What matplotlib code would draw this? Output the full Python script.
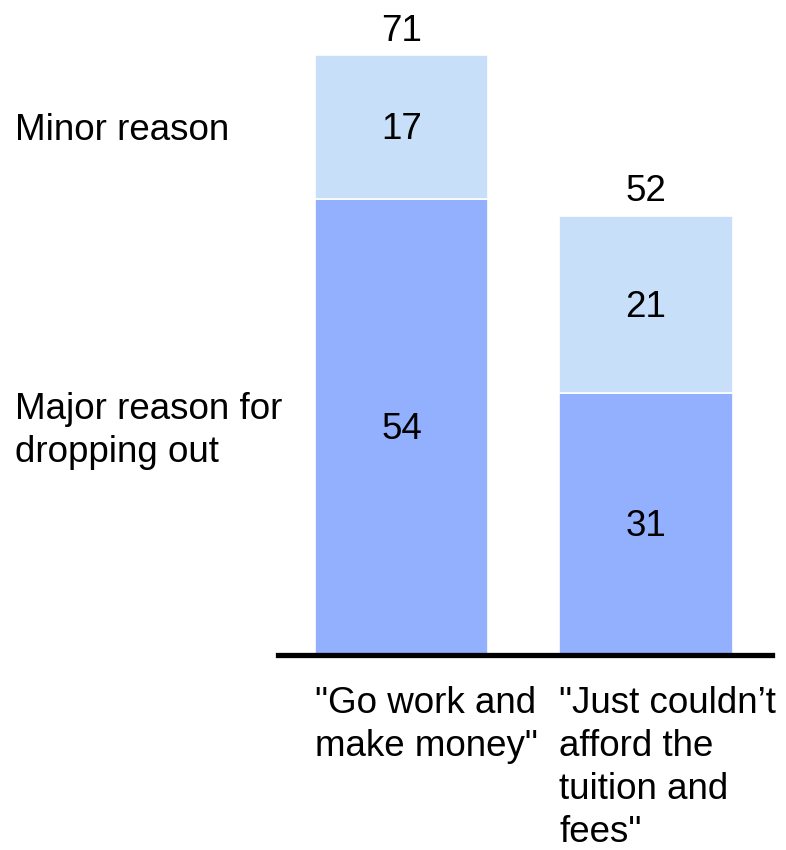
import matplotlib.pyplot as plt

plt.rcParams['font.family'] = ['Liberation Sans', 'DejaVu Sans']

categories = ['"Go work and\nmake money"', '"Just couldn\u2019t\nafford the\ntuition and\nfees"']
major = [54, 31]
minor = [17, 21]
totals = [71, 52]

light = '#c8dffa'
dark = '#93b0fe'
fs = 26.5
nudge = 0.35  # center labels sit a bit high in Liberation Sans

fig = plt.figure(figsize=(7.86, 8.5), dpi=100)
ax = fig.add_axes([278 / 786, 195 / 850, 494 / 786, 655 / 850])

x = [0, 1]
w = 0.708
ax.bar(x, major, width=w, color=dark, edgecolor='white', linewidth=1.2)
ax.bar(x, minor, width=w, bottom=major, color=light, edgecolor='white', linewidth=1.2)

for i in x:
    ax.text(i, major[i] / 2 - nudge, str(major[i]), ha='center', va='center', fontsize=fs)
    ax.text(i, major[i] + minor[i] / 2 - nudge, str(minor[i]), ha='center', va='center', fontsize=fs)
    ax.text(i, totals[i] + 0.75, str(totals[i]), ha='center', va='bottom', fontsize=fs)
    ax.text(i - w / 2, -3.65, categories[i], ha='left', va='top', fontsize=fs,
            linespacing=1.3, clip_on=False)

ax.axhline(0, color='black', linewidth=3.8, clip_on=False)

ax.set_xlim(-0.505, 1.515)
ax.set_ylim(0, 71 * 655 / 600)
ax.axis('off')

# series labels on the left
fig.text(15 / 786, 1 - 130 / 850, 'Minor reason', ha='left', va='center', fontsize=fs)
fig.text(15 / 786, 1 - 431 / 850, 'Major reason for\ndropping out', ha='left', va='center',
         fontsize=fs, linespacing=1.3)

fig.savefig('out.png', dpi=100)
